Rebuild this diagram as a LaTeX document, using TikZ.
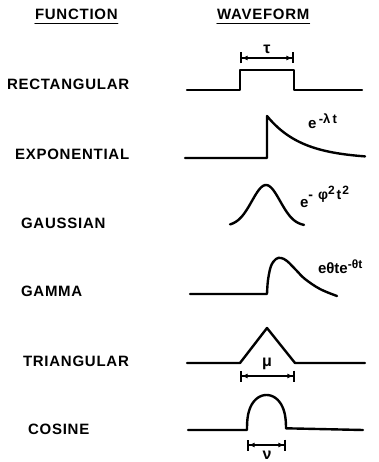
\documentclass[tikz,border=0pt]{standalone}
\usepackage{fontspec}
\setmainfont{Liberation Sans}
\newfontfamily\capsf{Liberation Sans}[LetterSpace=5]
\usetikzlibrary{arrows.meta}
\begin{document}
\begin{tikzpicture}[x=1pt,y=-1pt,line join=round,line cap=round,
  hdr/.style={font=\capsf\bfseries\fontsize{15}{15}\selectfont,anchor=base west,inner sep=0pt,outer sep=0pt},
  lbl/.style={font=\capsf\bfseries\fontsize{15}{15}\selectfont,anchor=base west,inner sep=0pt,outer sep=0pt},
  mth/.style={font=\bfseries\fontsize{15}{15}\selectfont,anchor=base west,inner sep=0pt,outer sep=0pt},
  greek/.style={font=\bfseries\fontsize{16}{16}\selectfont,inner sep=0pt},
  wave/.style={line width=2.4pt},
  uline/.style={line width=1.5pt},
  dimline/.style={line width=1.6pt,{Bar[width=11pt]Latex[length=6pt,width=5pt]}-{Latex[length=6pt,width=5pt]Bar[width=11pt]}}]
\useasboundingbox (0,0) rectangle (379,462);
% headers
\node[hdr] (fn) at (35,20) {FUNCTION};
\node[hdr] (wf) at (217,20) {WAVEFORM};
\draw[uline] ([yshift=-3.5pt]fn.base west) -- ([yshift=-3.5pt]fn.base east);
\draw[uline] ([yshift=-3.5pt]wf.base west) -- ([yshift=-3.5pt]wf.base east);
% labels
\node[lbl] (rect) at (7,90) {RECTANGULAR};
\node[lbl] (expo) at (15,160) {EXPONENTIAL};
\node[lbl] (gaus) at (21,228) {GAUSSIAN};
\node[lbl] (gamm) at (21,296) {GAMMA};
\node[lbl] (tria) at (23,366) {TRIANGULAR};
\node[lbl] (cosi) at (28,434) {COSINE};
% rectangular
\draw[wave] (187,90) -- (240,90) -- (240,70) -- (294,70) -- (294,90) -- (362,90);
\coordinate (r1) at (240,58); \coordinate (r2) at (294,58);
\draw[dimline] (r1) -- (r2);
\node[greek] (tau) at (267,49) {τ};
% exponential
\draw[wave] (185,158) -- (267,158) -- (267,116) -- plot[domain=267:365,samples=40] (\x,{159-43*exp(-(\x-267)/35)});
\node[mth] (lexp) at (308,129) {e\,\raisebox{5.5pt}{\fontsize{13}{13}\selectfont -λ\,t}};
% gaussian
\draw[wave] plot[domain=230:304,samples=50] (\x,{226-41*exp(-((\x-266)/20)^2)});
\node[mth] (lgau) at (300,207) {e\raisebox{7pt}{\fontsize{14}{14}\selectfont -\hspace{5pt}φ\raisebox{6pt}{\fontsize{12}{12}\selectfont 2}\hspace{2pt}t\hspace{1pt}\raisebox{6pt}{\fontsize{12}{12}\selectfont 2}}};
% gamma
\draw[wave] (190,294) -- (267,294) -- plot[smooth,tension=0.6] coordinates {(267,294) (268,280) (271,266) (276,259) (281,258) (287,261) (296,270) (305,279) (320,289) (337,296)};
\node[mth] (lgam) at (318,273) {eθte\raisebox{5pt}{\fontsize{12}{12}\selectfont -θt}};
% triangular
\draw[wave] (187,363) -- (240,363) -- (267,328) -- (295,363) -- (365,363);
\coordinate (t1) at (240,376); \coordinate (t2) at (295,376);
\draw[dimline] (t1) -- (t2);
\node[greek] (mu) at (267,364) {μ};
% cosine
\draw[wave] (188,430) -- (247,430) -- plot[domain=1:179,samples=50] ({266.5-19.5*cos(\x)},{430-35*sin(\x)^0.75}) -- (363,430);
\coordinate (c1) at (247,445); \coordinate (c2) at (286,445);
\draw[dimline] (c1) -- (c2);
\node[greek] (nu) at (267,455) {ν};
\end{tikzpicture}
\end{document}
